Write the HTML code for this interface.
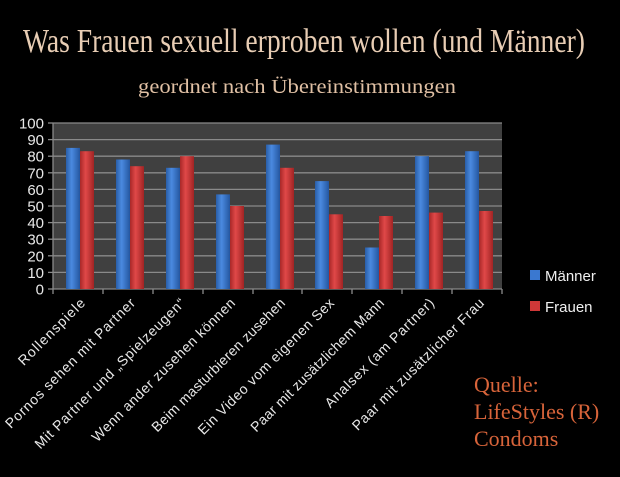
<!DOCTYPE html>
<html><head><meta charset="utf-8"><style>
html,body{margin:0;padding:0;background:#000;}
svg{display:block;}
</style></head><body>
<svg width="620" height="477" xmlns="http://www.w3.org/2000/svg">
<defs>
<linearGradient id="gb" x1="0" x2="1" y1="0" y2="0">
<stop offset="0" stop-color="#2a5ea8"/><stop offset="0.4" stop-color="#4a8ae0"/><stop offset="1" stop-color="#2456a0"/>
</linearGradient>
<linearGradient id="gr" x1="0" x2="1" y1="0" y2="0">
<stop offset="0" stop-color="#a82828"/><stop offset="0.4" stop-color="#e04848"/><stop offset="1" stop-color="#a02424"/>
</linearGradient>
</defs>
<rect width="620" height="477" fill="#000"/>
<text x="304" y="52" text-anchor="middle" font-family="Liberation Serif, serif" font-size="34" fill="#e8cdb4" textLength="562" lengthAdjust="spacingAndGlyphs">Was Frauen sexuell erproben wollen (und Männer)</text>
<text x="297" y="93" text-anchor="middle" font-family="Liberation Serif, serif" font-size="20" fill="#e0c0a4" textLength="318" lengthAdjust="spacingAndGlyphs">geordnet nach Übereinstimmungen</text>
<rect x="53" y="123" width="449" height="166" fill="#404040"/>
<g stroke="#8a8a8a" stroke-width="1.3">
<line x1="53" x2="502" y1="123" y2="123"/><line x1="53" x2="502" y1="139.6" y2="139.6"/><line x1="53" x2="502" y1="156.2" y2="156.2"/><line x1="53" x2="502" y1="172.8" y2="172.8"/><line x1="53" x2="502" y1="189.4" y2="189.4"/><line x1="53" x2="502" y1="206" y2="206"/><line x1="53" x2="502" y1="222.6" y2="222.6"/><line x1="53" x2="502" y1="239.2" y2="239.2"/><line x1="53" x2="502" y1="255.8" y2="255.8"/><line x1="53" x2="502" y1="272.4" y2="272.4"/>
<line x1="53" x2="502" y1="289" y2="289"/><line x1="53" x2="53" y1="123" y2="294"/>
<line x1="48" x2="53" y1="123" y2="123"/><line x1="48" x2="53" y1="139.6" y2="139.6"/><line x1="48" x2="53" y1="156.2" y2="156.2"/><line x1="48" x2="53" y1="172.8" y2="172.8"/><line x1="48" x2="53" y1="189.4" y2="189.4"/><line x1="48" x2="53" y1="206" y2="206"/><line x1="48" x2="53" y1="222.6" y2="222.6"/><line x1="48" x2="53" y1="239.2" y2="239.2"/><line x1="48" x2="53" y1="255.8" y2="255.8"/><line x1="48" x2="53" y1="272.4" y2="272.4"/><line x1="48" x2="53" y1="289" y2="289"/>
<line x1="103" x2="103" y1="289" y2="294"/><line x1="153" x2="153" y1="289" y2="294"/><line x1="203" x2="203" y1="289" y2="294"/><line x1="253" x2="253" y1="289" y2="294"/><line x1="302" x2="302" y1="289" y2="294"/><line x1="352" x2="352" y1="289" y2="294"/><line x1="402" x2="402" y1="289" y2="294"/><line x1="452" x2="452" y1="289" y2="294"/><line x1="502" x2="502" y1="289" y2="294"/>
</g>
<g font-family="Liberation Sans, sans-serif" font-size="15" fill="#e8e8e8" text-anchor="end">
<text x="44" y="128.5">100</text><text x="44" y="145.1">90</text><text x="44" y="161.7">80</text><text x="44" y="178.3">70</text><text x="44" y="194.9">60</text><text x="44" y="211.5">50</text><text x="44" y="228.1">40</text><text x="44" y="244.7">30</text><text x="44" y="261.3">20</text><text x="44" y="277.9">10</text><text x="44" y="294.5">0</text>
</g>
<g id="bars">
<rect x="66" y="147.9" width="14" height="141.1" fill="url(#gb)"/><rect x="80" y="151.2" width="14" height="137.8" fill="url(#gr)"/>
<rect x="116" y="159.5" width="14" height="129.5" fill="url(#gb)"/><rect x="130" y="166.2" width="14" height="122.8" fill="url(#gr)"/>
<rect x="166" y="167.8" width="14" height="121.2" fill="url(#gb)"/><rect x="180" y="156.2" width="14" height="132.8" fill="url(#gr)"/>
<rect x="216" y="194.4" width="14" height="94.6" fill="url(#gb)"/><rect x="230" y="206" width="14" height="83" fill="url(#gr)"/>
<rect x="266" y="144.6" width="14" height="144.4" fill="url(#gb)"/><rect x="280" y="167.8" width="14" height="121.2" fill="url(#gr)"/>
<rect x="315" y="181.1" width="14" height="107.9" fill="url(#gb)"/><rect x="329" y="214.3" width="14" height="74.7" fill="url(#gr)"/>
<rect x="365" y="247.5" width="14" height="41.5" fill="url(#gb)"/><rect x="379" y="216" width="14" height="73" fill="url(#gr)"/>
<rect x="415" y="156.2" width="14" height="132.8" fill="url(#gb)"/><rect x="429" y="212.6" width="14" height="76.4" fill="url(#gr)"/>
<rect x="465" y="151.2" width="14" height="137.8" fill="url(#gb)"/><rect x="479" y="211" width="14" height="78" fill="url(#gr)"/>
</g>
<rect x="530" y="270" width="10" height="10" fill="#3a78d0"/>
<rect x="530" y="301" width="10" height="10" fill="#d03838"/>
<g font-family="Liberation Sans, sans-serif" font-size="15" fill="#f0f0f0">
<text x="545" y="281">Männer</text><text x="545" y="312">Frauen</text>
</g>
<g font-family="Liberation Sans, sans-serif" font-size="14" fill="#e8e8e8" text-anchor="end" lengthAdjust="spacingAndGlyphs">
<text transform="translate(86,304) rotate(-45)" textLength="88">Rollenspiele</text>
<text transform="translate(136,304) rotate(-45)" textLength="177">Pornos sehen mit Partner</text>
<text transform="translate(186,304) rotate(-45)" textLength="206">Mit Partner und „Spielzeugen“</text>
<text transform="translate(236,304) rotate(-45)" textLength="196">Wenn ander zusehen können</text>
<text transform="translate(286,304) rotate(-45)" textLength="182">Beim masturbieren zusehen</text>
<text transform="translate(335,304) rotate(-45)" textLength="186">Ein Video vom eigenen Sex</text>
<text transform="translate(385,304) rotate(-45)" textLength="182">Paar mit zusätzlichem Mann</text>
<text transform="translate(435,304) rotate(-45)" textLength="148">Analsex (am Partner)</text>
<text transform="translate(485,304) rotate(-45)" textLength="180">Paar mit zusätzlicher Frau</text>
</g>
<g font-family="Liberation Serif, serif" font-size="22" fill="#d8643a">
<text x="474" y="392">Quelle:</text><text x="474" y="419">LifeStyles (R)</text><text x="474" y="446">Condoms</text>
</g>
</svg>
</body></html>
